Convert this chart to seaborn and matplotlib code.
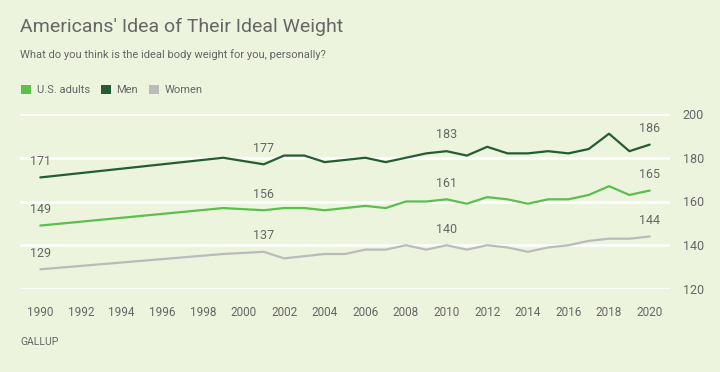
import matplotlib.pyplot as plt
import numpy as np
import pandas as pd
import seaborn as sns
from matplotlib.patches import Patch

# data
years = [1990, 1999, 2001, 2002, 2003, 2004, 2005, 2006, 2007, 2008, 2009,
         2010, 2011, 2012, 2013, 2014, 2015, 2016, 2017, 2018, 2019, 2020]
adults = [149, 157, 156, 157, 157, 156, 157, 158, 157, 160, 160,
          161, 159, 162, 161, 159, 161, 161, 163, 167, 163, 165]
men = [171, 180, 177, 181, 181, 178, 179, 180, 178, 180, 182,
       183, 181, 185, 182, 182, 183, 182, 184, 191, 183, 186]
women = [129, 136, 137, 134, 135, 136, 136, 138, 138, 140, 138,
         140, 138, 140, 139, 137, 139, 140, 142, 143, 143, 144]
label_years = [1990, 2001, 2010, 2020]
series_names = ['U.S. adults', 'Men', 'Women']

bg = '#ECF4DE'
txt = '#666666'
colors = {'U.S. adults': '#5BBF4C', 'Men': '#245C33', 'Women': '#BBBBBB'}

df = pd.DataFrame({'year': years, 'U.S. adults': adults, 'Men': men, 'Women': women})
long = df.melt(id_vars='year', var_name='group', value_name='weight')

sns.set_style('white')
plt.rcParams['font.family'] = ['Roboto', 'DejaVu Sans']

fig = plt.figure(figsize=(7.2, 3.72), dpi=100, facecolor=bg)
ax = fig.add_axes([20 / 720, 1 - 289 / 372, 650 / 720, 175 / 372])
ax.set_facecolor(bg)

# white grid lines behind the series
for v in range(120, 201, 20):
    ax.axhline(v, color='white', lw=1.8, zorder=0)

sns.lineplot(data=long, x='year', y='weight', hue='group', hue_order=series_names,
             palette=colors, lw=1.6, legend=False, ax=ax, zorder=3)

# value labels above selected points
for name, vals in [('U.S. adults', adults), ('Men', men), ('Women', women)]:
    for y, v in zip(years, vals):
        if y in label_years:
            ax.annotate(str(v), (y, v), xytext=(0, 7), textcoords='offset points',
                        ha='center', va='bottom', fontsize=9, color=txt)

ax.set_xlim(1989, 2021)
ax.set_ylim(120, 200)
ax.set_xticks(range(1990, 2021, 2))
ax.set_yticks(range(120, 201, 20))
ax.yaxis.tick_right()
ax.tick_params(axis='y', length=0, pad=9, labelsize=9, labelcolor=txt)
ax.tick_params(axis='x', length=7, width=1.5, color='white', pad=5,
               labelsize=8.5, labelcolor=txt, direction='out')
ax.set_xlabel('')
ax.set_ylabel('')
for s in ax.spines.values():
    s.set_visible(False)

fig.text(20 / 720, 1 - 27 / 372, "Americans' Idea of Their Ideal Weight",
         fontsize=14, color=txt, va='center')
fig.text(20 / 720, 1 - 55 / 372, 'What do you think is the ideal body weight for you, personally?',
         fontsize=8, color=txt, va='center')

handles = [Patch(facecolor=colors[n], edgecolor='none', label=n) for n in series_names]
leg = fig.legend(handles=handles, loc='center left', bbox_to_anchor=(11 / 720, 1 - 90 / 372),
                 ncol=3, frameon=False, handlelength=0.9, handleheight=0.9,
                 handletextpad=0.5, columnspacing=1.0, fontsize=8)
for t in leg.get_texts():
    t.set_color(txt)

fig.text(20 / 720, 1 - 342 / 372, 'GALLUP', fontsize=7.5, color=txt, va='center')

fig.savefig('out.png', dpi=100, facecolor=bg)
